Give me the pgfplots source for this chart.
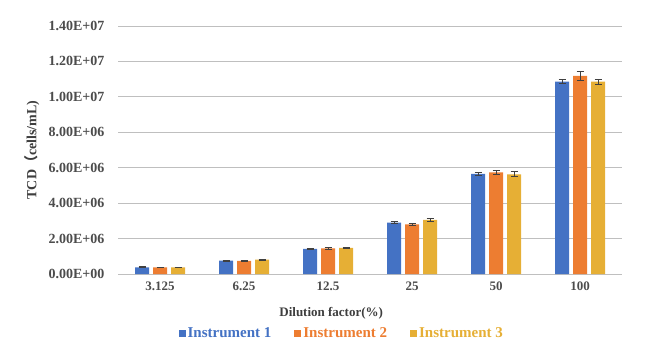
\documentclass[border=0pt]{standalone}
\usepackage{pgfplots}
\pgfplotsset{compat=1.18}
\usepackage{fontspec}
\setmainfont{Liberation Serif}
\newfontfamily\cjk{Noto Sans CJK SC}
\definecolor{c1}{HTML}{4472C4}
\definecolor{c2}{HTML}{ED7D31}
\definecolor{c3}{HTML}{E6AF35}
\definecolor{tick}{HTML}{595959}
\definecolor{grid}{HTML}{D9D9D9}
\definecolor{errc}{HTML}{404040}
\pgfplotsset{eb/.style={
  error bars/y dir=both, error bars/y explicit,
  error bars/error bar style={color=errc, line width=1pt},
  error bars/error mark options={rotate=90, mark size=3.5pt, line width=1pt, color=errc}}}
\begin{document}
\begin{tikzpicture}
\path (0,0) rectangle (650pt,362pt);
\begin{axis}[
  at={(118pt,88pt)}, anchor=south west,
  scale only axis, width=504pt, height=248pt,
  xmin=-0.5, xmax=5.5, ymin=0, ymax=1.4e7,
  ybar=4pt, bar width=14pt,
  scaled y ticks=false,
  xtick={0,1,2,3,4,5},
  xticklabels={3.125,6.25,12.5,25,50,100},
  ytick={0,2e6,4e6,6e6,8e6,1e7,1.2e7,1.4e7},
  yticklabels={0.00E+00,2.00E+06,4.00E+06,6.00E+06,8.00E+06,1.00E+07,1.20E+07,1.40E+07},
  xmajorgrids=false, ymajorgrids=true, grid style={grid, line width=0.8pt},
  axis x line*=bottom, axis y line*=left,
  x axis line style={draw=black!25, line width=0.8pt},
  y axis line style={draw=none},
  tick style={draw=none},
  major tick length=0pt,
  ticklabel style={font=\fontsize{13}{15}\selectfont\bfseries, text=tick!85!black},
  yticklabel style={xshift=-10pt, font=\fontsize{14}{16}\selectfont\bfseries},
  xticklabel style={yshift=-4pt},
  xlabel={Dilution factor(\%)},
  xlabel style={at={(axis description cs:0.423,-0.157)}, anchor=center, font=\fontsize{13}{15}\selectfont\bfseries, text=tick!70!black},
  ylabel={TCD{\cjk （}cells/mL)},
  ylabel style={at={(axis description cs:-0.171,0.5)}, anchor=center, font=\fontsize{14}{16}\selectfont\bfseries, text=tick!70!black},
  legend columns=3,
  legend style={draw=none, at={(axis description cs:0.444,-0.238)}, anchor=center,
    font=\fontsize{15}{17}\selectfont\bfseries, /tikz/every even column/.append style={column sep=21pt}},
  legend image code/.code={\fill[#1] (0pt,-3.5pt) rectangle (7pt,3.5pt);},
]
\addplot[fill=c1, draw=none, eb] coordinates {
 (0,3.8e5) +- (0,2.5e4)
 (1,7.5e5) +- (0,3e4)
 (2,1.42e6) +- (0,4e4)
 (3,2.90e6) +- (0,6e4)
 (4,5.65e6) +- (0,1e5)
 (5,1.086e7) +- (0,1.3e5)
};
\addplot[fill=c2, draw=none, eb] coordinates {
 (0,3.7e5) +- (0,2.5e4)
 (1,7.4e5) +- (0,3e4)
 (2,1.45e6) +- (0,4e4)
 (3,2.80e6) +- (0,6e4)
 (4,5.74e6) +- (0,1e5)
 (5,1.118e7) +- (0,2.5e5)
};
\addplot[fill=c3, draw=none, eb] coordinates {
 (0,3.7e5) +- (0,2.5e4)
 (1,8.1e5) +- (0,3e4)
 (2,1.47e6) +- (0,4e4)
 (3,3.05e6) +- (0,6e4)
 (4,5.63e6) +- (0,1.3e5)
 (5,1.086e7) +- (0,1.4e5)
};
\legend{\textcolor{c1}{Instrument 1},\textcolor{c2}{Instrument 2},\textcolor{c3}{Instrument 3}}
\end{axis}
\end{tikzpicture}
\end{document}
